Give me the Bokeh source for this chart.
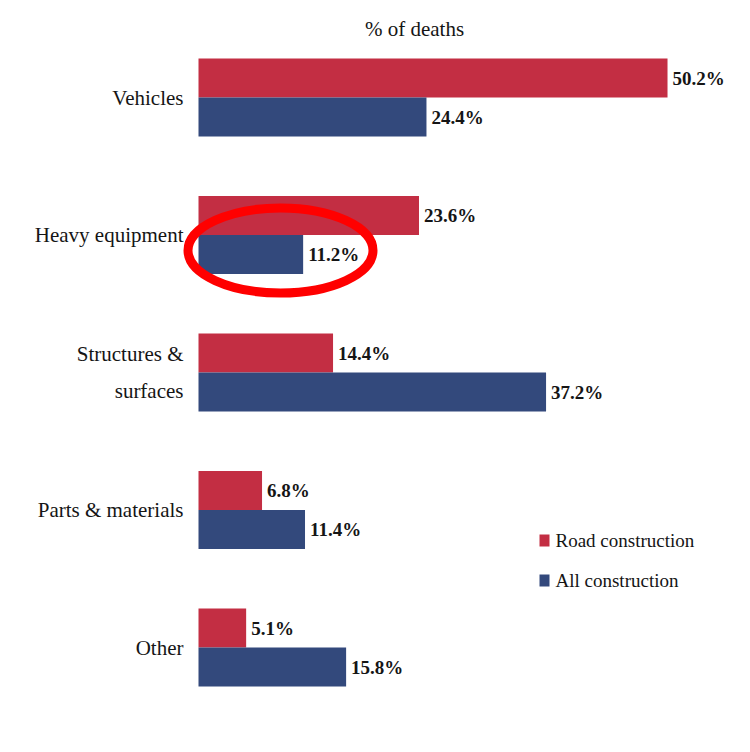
from bokeh.plotting import figure
from bokeh.models import Range1d, ColumnDataSource
from bokeh.core.properties import value
from bokeh.embed import file_html
from bokeh.resources import INLINE

categories = ["Vehicles", "Heavy equipment", "Structures &\nsurfaces", "Parts & materials", "Other"]
road = [50.2, 23.6, 14.4, 6.8, 5.1]
allc = [24.4, 11.2, 37.2, 11.4, 15.8]
series_names = ["Road construction", "All construction"]
title_text = "% of deaths"

RED = "#c32e43"
BLUE = "#33497c"
FONT = "Liberation Serif"
TXT = "#151515"

W, H = 742, 744
X0_PX = 198.0          # px of x=0
PX_PER_UNIT = 9.343    # px per percent
Y0_PX = 97.0           # px of first group centre
GROUP_PX = 137.5

x_start = -X0_PX / PX_PER_UNIT
x_end = (W - X0_PX) / PX_PER_UNIT
y_top = -Y0_PX / GROUP_PX
y_bottom = (H - Y0_PX) / GROUP_PX

def dx(px):  # px -> data x
    return (px - X0_PX) / PX_PER_UNIT

def dy(py):  # px -> data y (group index units)
    return y_top + py / GROUP_PX

p = figure(width=W, height=H, output_backend="svg", toolbar_location=None,
           x_range=Range1d(x_start, x_end), y_range=Range1d(y_bottom, y_top),
           min_border=0, outline_line_color=None)
p.axis.visible = False
p.grid.visible = False
p.background_fill_color = "white"
p.border_fill_color = "white"

bh = 39 / GROUP_PX
idx = list(range(len(categories)))
src = ColumnDataSource(dict(
    idx=idx,
    road_y=[i - bh / 2 for i in idx],
    all_y=[i + bh / 2 for i in idx],
    road=road, allc=allc,
    road_lbl=[f"{v:.1f}%" for v in road],
    all_lbl=[f"{v:.1f}%" for v in allc],
    cat=categories,
))

p.hbar(y="road_y", right="road", left=0, height=bh, source=src, fill_color=RED, line_color=None)
p.hbar(y="all_y", right="allc", left=0, height=bh, source=src, fill_color=BLUE, line_color=None)

p.text(x="road", y="road_y", text="road_lbl", source=src, x_offset=5,
       text_font=value(FONT), text_font_size="19px", text_color=TXT, text_font_style="bold",
       text_baseline="middle", text_align="left")
p.text(x="allc", y="all_y", text="all_lbl", source=src, x_offset=5,
       text_font=value(FONT), text_font_size="19px", text_color=TXT, text_font_style="bold",
       text_baseline="middle", text_align="left")

p.text(x=dx(183), y="idx", text="cat", source=src,
       text_font=value(FONT), text_font_size="21px", text_color=TXT,
       text_baseline="middle", text_align="right", text_line_height=1.55)

# title
p.text(x=[dx(414)], y=[dy(28)], text=[title_text], text_font=value(FONT),
       text_font_size="21px", text_color=TXT, text_baseline="middle", text_align="center")

# legend
leg_colors = [RED, BLUE]
leg_y = [dy(540), dy(580)]
p.rect(x=[dx(544)] * 2, y=leg_y, width=10, height=12, width_units="screen", height_units="screen",
       fill_color=leg_colors, line_color=None)
p.text(x=[dx(555)] * 2, y=leg_y, text=series_names, text_font=value(FONT),
       text_font_size="19px", text_color=TXT, text_baseline="middle", text_align="left")

# highlight ellipse
p.ellipse(x=[dx(280)], y=[dy(250)], width=185, height=85, width_units="screen", height_units="screen",
          fill_color=None, line_color="#ff0000", line_width=9)

open("out.html", "w").write(file_html(p, INLINE))
